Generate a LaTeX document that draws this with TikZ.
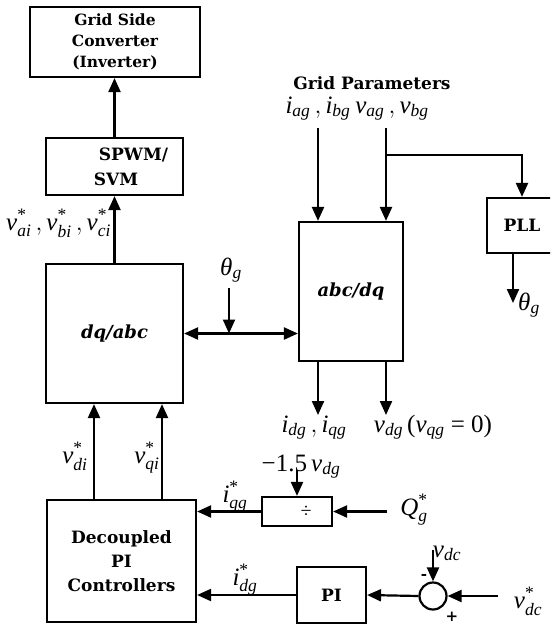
\documentclass[tikz,border=0pt]{standalone}
\usepackage{amsmath}
\usepackage{fontspec}
\setmainfont{Liberation Serif}
\newfontfamily\blab{DejaVu Serif}
\usetikzlibrary{arrows.meta}
\newcommand\mi[1]{\textit{#1}}
\newcommand\st{\textup{*}}
\tikzset{
  blk/.style={draw, line width=2.2pt, inner sep=0pt, align=center,
    font=\blab\bfseries\fontsize{17}{24}\selectfont},
  btxt/.style={inner sep=0pt, align=left, font=\blab\bfseries\fontsize{17}{25}\selectfont},
  arr/.style={line width=2.2pt, -{Triangle[length=14pt,width=12pt]}},
  darr/.style={line width=2.2pt, {Triangle[length=14pt,width=12pt]}-{Triangle[length=14pt,width=12pt]}},
  mth/.style={inner sep=0pt, anchor=base, font=\fontsize{25}{28}\selectfont},
  sgn/.style={inner sep=0pt, font=\blab\bfseries\fontsize{15}{17}\selectfont}
}
\begin{document}
\begin{tikzpicture}[x=1pt,y=-1pt]
\useasboundingbox (0,0) rectangle (550,625);
\clip (0,0) rectangle (550,625);
% blocks
\node[blk, minimum width=170, minimum height=70, font=\blab\bfseries\fontsize{15.5}{21}\selectfont] (conv) at (115,42) {Grid Side\\Converter\\(Inverter)};
\node[blk, minimum width=137, minimum height=57] (spwm) at (114.5,166.5) {};
\node[btxt] (spwmtxt) at (131,167) {\hspace*{5pt}SPWM/\\SVM};
\node[blk, minimum width=137, minimum height=139, font=\blab\bfseries\itshape\fontsize{18}{20}\selectfont] (dqabc) at (114.5,333.5) {dq/abc};
\node[blk, minimum width=104, minimum height=139, font=\blab\bfseries\itshape\fontsize{18}{20}\selectfont] (abcdq) at (351,291.5) {abc/dq};
\node[blk, minimum width=70, minimum height=55] (pll) at (522,225.5) {PLL};
\node[blk, minimum width=149, minimum height=122, font=\blab\bfseries\fontsize{17}{24}\selectfont] (dec) at (121.5,561) {Decoupled\\PI\\Controllers};
\node[blk, minimum width=70, minimum height=29, font=\fontsize{20}{22}\selectfont] (div) at (297,511.5) {\hspace*{18pt}÷};
\node[blk, minimum width=69, minimum height=56] (pi) at (331.5,595) {PI};
\node[draw, circle, line width=2.2pt, minimum size=27, inner sep=0pt] (sum) at (433,596) {};
% coordinates
\coordinate (thtop) at (229,288);
\coordinate (ia) at (318,128);
\coordinate (va) at (386,128);
\coordinate (br) at (386,155);
\coordinate (po) at (513,303);
\coordinate (oi) at (318,415);
\coordinate (ov) at (386,415);
\coordinate (vdx) at (94,450);
\coordinate (vqx) at (162,450);
\coordinate (qin) at (387,511.5);
\coordinate (mtop) at (297,470);
\coordinate (vin) at (498,596);
\coordinate (vdct) at (433,550);
% connectors
\draw[arr] (spwm.north) -- (spwm.north |- conv.south);
\draw[arr] (dqabc.north) -- (spwm.south);
\draw[darr] (dqabc.east) -- (dqabc.east -| abcdq.west);
\draw[arr] (thtop) -- (thtop |- dqabc.east);
\draw[arr] (ia) -- (ia |- abcdq.north);
\draw[arr] (va) -- (va |- abcdq.north);
\draw[arr] (br) -| (pll.north);
\draw[arr] (pll.south -| po) -- (po);
\draw[arr] (abcdq.south -| oi) -- (oi);
\draw[arr] (abcdq.south -| ov) -- (ov);
\draw[arr] (dec.north -| vdx) -- (dqabc.south -| vdx);
\draw[arr] (dec.north -| vqx) -- (dqabc.south -| vqx);
\draw[arr] (div.west) -- (div.west -| dec.east);
\draw[arr] (qin) -- (div.east);
\draw[arr] (mtop) -- (div.north);
\draw[arr] (pi.west) -- (pi.west -| dec.east);
\draw[arr] (sum.west) -- (pi.east);
\draw[arr] (vin) -- (sum.east);
\draw[arr] (vdct) -- (sum.north);
% labels
\node[btxt] (gp) at (372,83) {Grid Parameters};
\node[mth, anchor=base west] (lvabc) at (6,230) {$\mi{v}^{\st}_{\mi{ai}}\,,\mi{v}^{\st}_{\mi{bi}}\,,\mi{v}^{\st}_{\mi{ci}}$};
\node[mth] (liab) at (318,113) {$\mi{i}_{\mi{ag}}\,,\mi{i}_{\mi{bg}}$};
\node[mth] (lvab) at (392,113) {$\mi{v}_{\mi{ag}}\,,\mi{v}_{\mi{bg}}$};
\node[mth] (lth1) at (231,275) {$\mi{θ}_{\mi{g}}$};
\node[mth] (lth2) at (529,310) {$\mi{θ}_{\mi{g}}$};
\node[mth] (lidq) at (314,432) {$\mi{i}_{\mi{dg}}\,,\mi{i}_{\mi{qg}}$};
\node[mth] (lvdg) at (433,432) {$\mi{v}_{\mi{dg}}\,\textup{(}\mi{v}_{\mi{qg}}\textup{ = 0)}$};
\node[mth] (lvdi) at (75,463) {$\mi{v}^{\st}_{\mi{di}}$};
\node[mth] (lvqi) at (147,463) {$\mi{v}^{\st}_{\mi{qi}}$};
\node[mth] (liqg) at (235,502) {$\mi{i}^{\st}_{\mi{qg}}$};
\node[mth] (lidg) at (245,585) {$\mi{i}^{\st}_{\mi{dg}}$};
\node[mth] (lm15) at (301,471) {$\textup{−1.5}\,\mi{v}_{\mi{dg}}$};
\node[mth] (lq) at (414,515) {$\mi{Q}^{\st}_{\mi{g}}$};
\node[mth] (lvdc) at (447,557) {$\mi{v}_{\mi{dc}}$};
\node[sgn] (lminus) at (424,577) {-};
\node[sgn] (lplus) at (452,617) {+};
\node[mth] (lvdcs) at (528,608) {$\mi{v}^{\st}_{\mi{dc}}$};
\end{tikzpicture}
\end{document}
